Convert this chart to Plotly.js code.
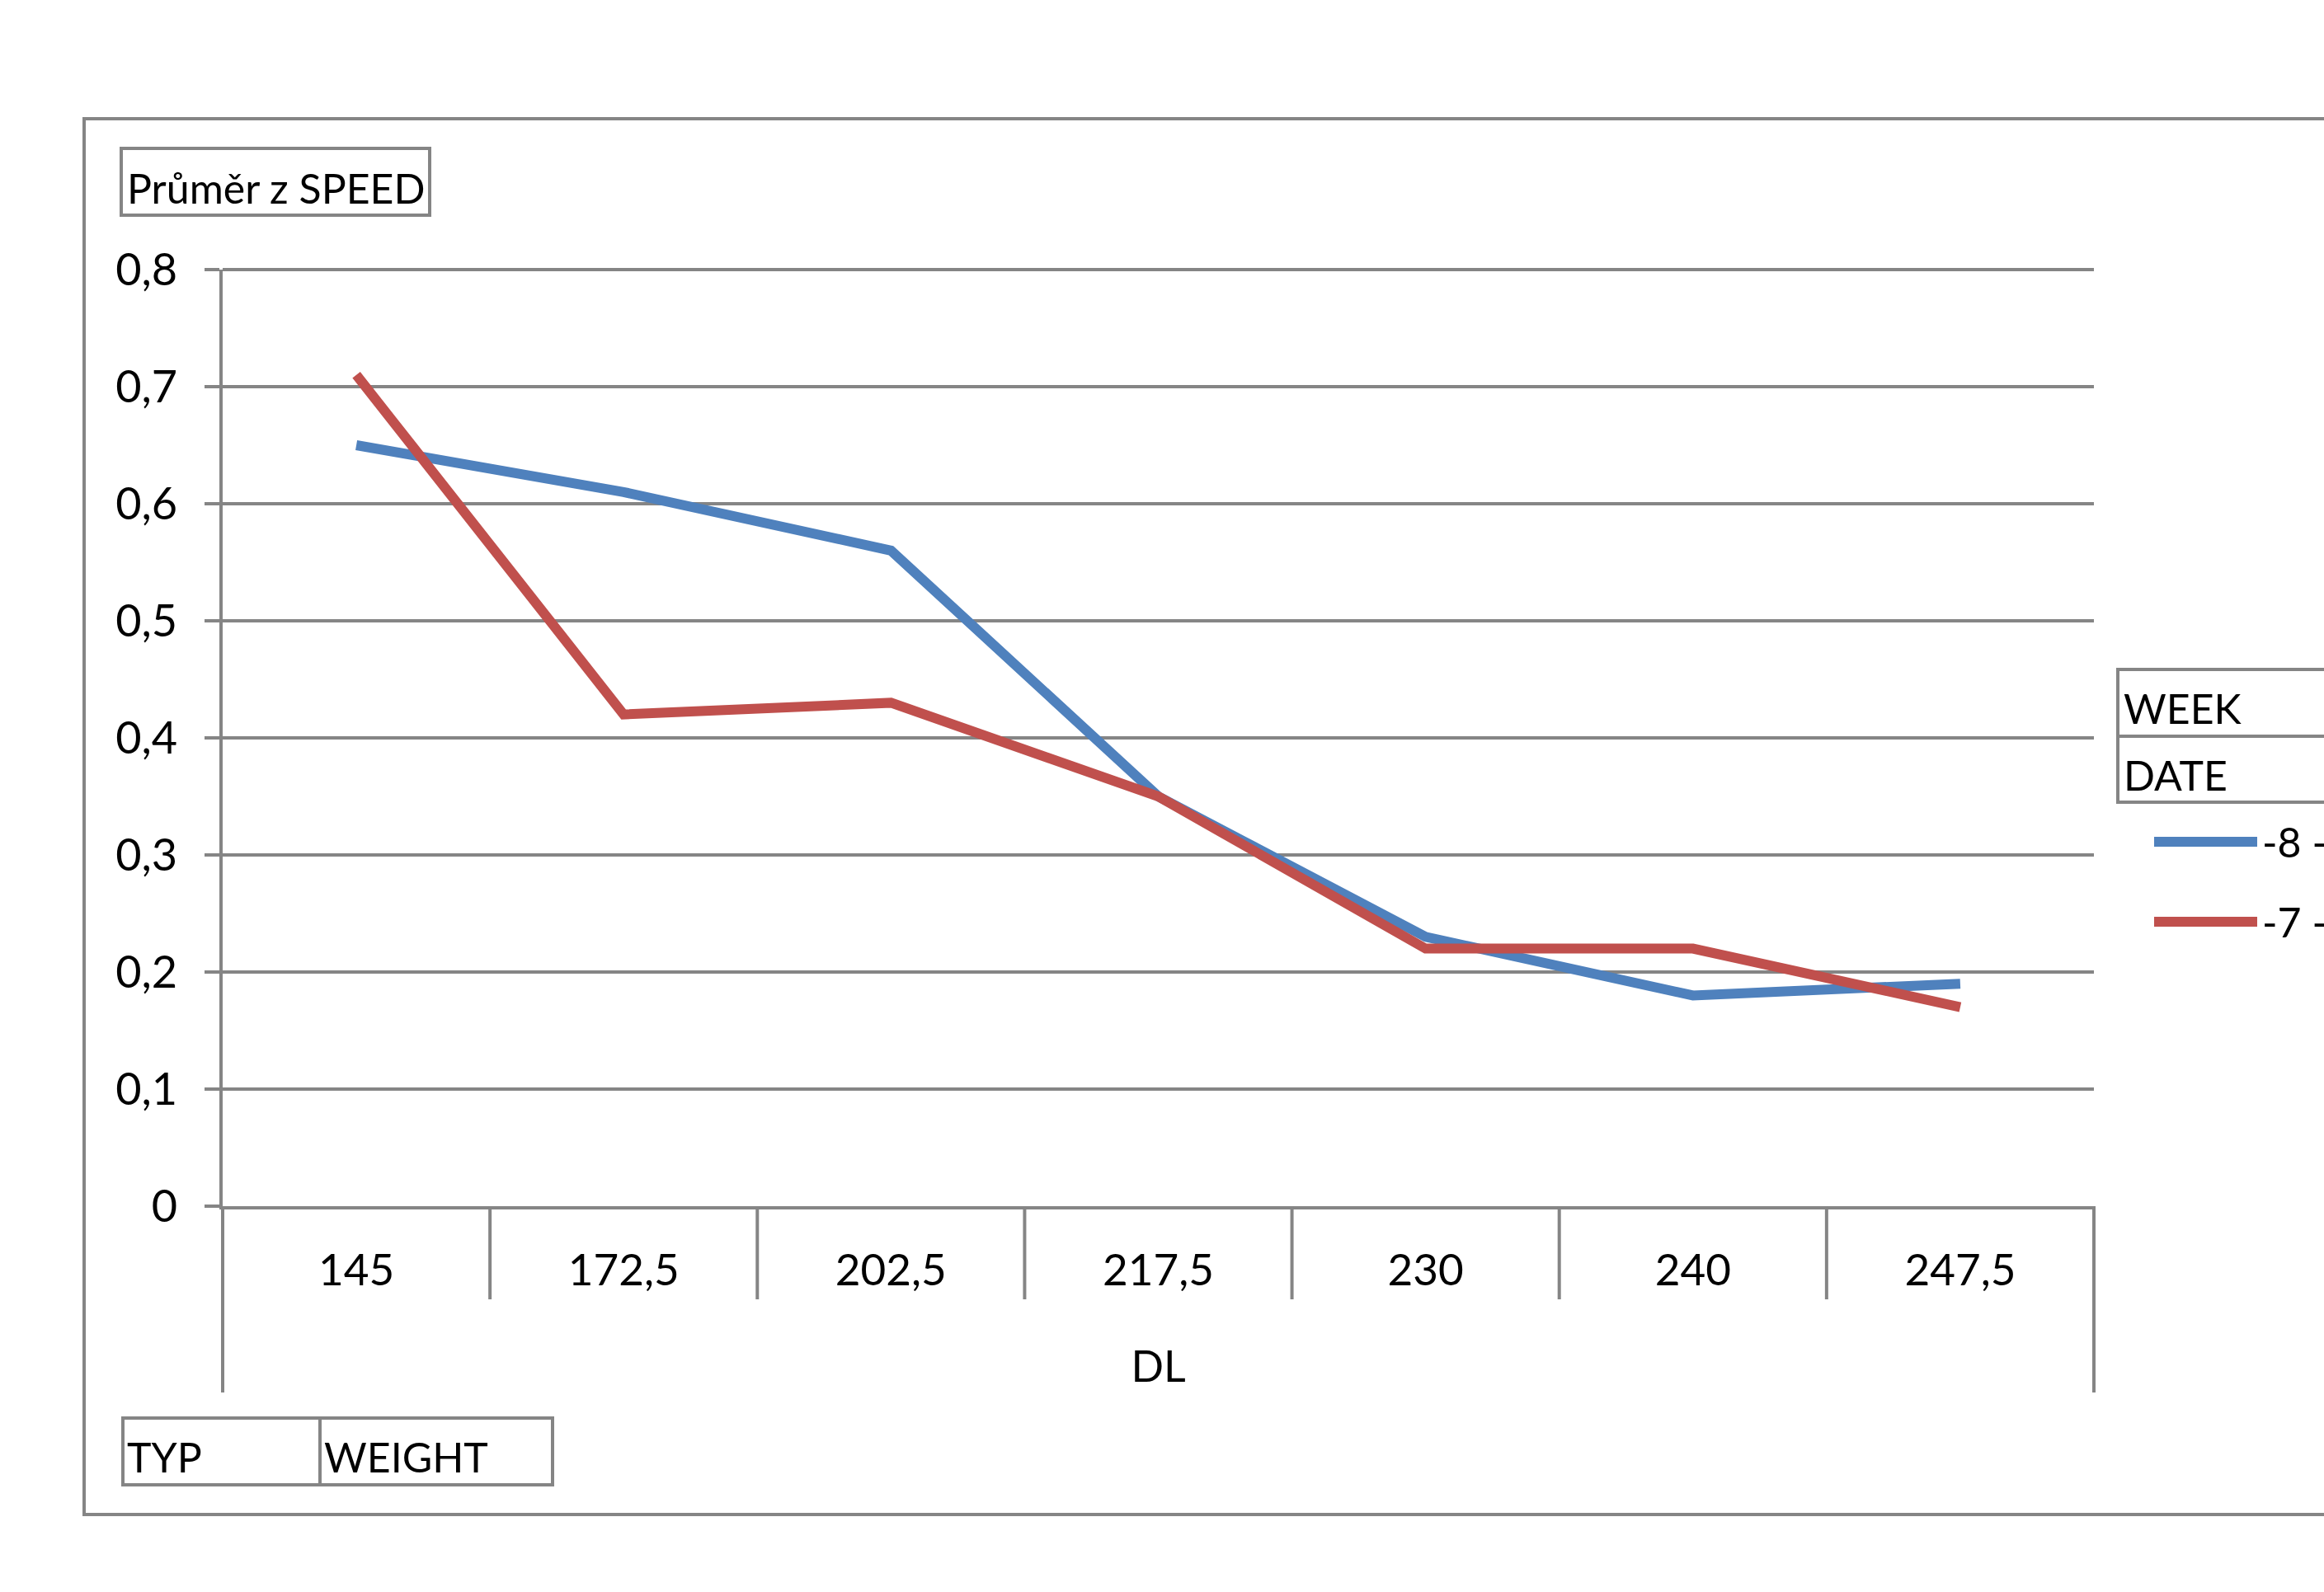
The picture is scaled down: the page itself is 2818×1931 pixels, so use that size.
<!DOCTYPE html>
<html>
<head>
<meta charset="utf-8">
<script src="https://cdn.plot.ly/plotly-3.0.1.min.js"></script>
<style>
  html, body { margin: 0; padding: 0; background: #fff; }
  #chart { width: 2818px; height: 1931px; }
</style>
</head>
<body>
<div id="chart"></div>
<script>
'use strict';

// data
const categories = ['145', '172,5', '202,5', '217,5', '230', '240', '247,5'];
const seriesNames = ['-8 -', '-7 -'];
const seriesWeek8 = [0.65, 0.61, 0.56, 0.35, 0.23, 0.18, 0.19];
const seriesWeek7 = [0.71, 0.42, 0.43, 0.35, 0.22, 0.22, 0.17];
const seriesColors = ['#4F81BD', '#C0504D'];

const GRAY = '#858585';
const W = 2818, H = 1931;
const PL = 270, PR = 2539, PT = 327, PB = 1463;

// pixel -> paper coords
const px = x => (x - PL) / (PR - PL);
const py = y => (PB - y) / (PB - PT);

const traces = [seriesWeek8, seriesWeek7].map((vals, i) => ({
    x: categories, y: vals, type: 'scatter', mode: 'lines',
    name: seriesNames[i],
    line: { color: seriesColors[i], width: 12 },
    showlegend: false,
}));

const boxLine = { color: GRAY, width: 4 };
const shapes = [
    // top gridline (plotly skips the one sitting on the plot edge)
    { type: 'line', xref: 'paper', yref: 'paper', x0: 0, x1: 1, y0: 1, y1: 1, line: boxLine, layer: 'below' },
    // outer chart border (runs off the right edge)
    { type: 'rect', xref: 'paper', yref: 'paper', x0: px(102), x1: px(2840), y0: py(1837), y1: py(144), line: boxLine },
    // field buttons
    { type: 'rect', xref: 'paper', yref: 'paper', x0: px(147), x1: px(521), y0: py(261), y1: py(180), line: boxLine },
    { type: 'rect', xref: 'paper', yref: 'paper', x0: px(2568), x1: px(2840), y0: py(973), y1: py(812), line: boxLine },
    { type: 'line', xref: 'paper', yref: 'paper', x0: px(2568), x1: px(2840), y0: py(893), y1: py(893), line: boxLine },
    { type: 'rect', xref: 'paper', yref: 'paper', x0: px(149), x1: px(670), y0: py(1801), y1: py(1720), line: boxLine },
    { type: 'line', xref: 'paper', yref: 'paper', x0: px(388), x1: px(388), y0: py(1801), y1: py(1720), line: boxLine },
];

// category divider lines below the axis
const n = categories.length;
for (let i = 0; i <= n; i++) {
    const outer = i === 0 || i === n;
    shapes.push({ type: 'line', xref: 'paper', yref: 'paper', x0: i / n, x1: i / n, y0: 0, y1: py(outer ? 1689 : 1576), line: boxLine });
}

const annotations = [
    { text: 'Průměr z SPEED', x: px(152), y: py(228) },
    { text: 'WEEK', x: px(2573), y: py(859) },
    { text: 'DATE', x: px(2573), y: py(940) },
    { text: 'TYP', x: px(152), y: py(1767) },
    { text: 'WEIGHT', x: px(391), y: py(1767) },
];

// hand-drawn legend so the sample line is as long as the original
seriesNames.forEach((name, i) => {
    const yy = 1021 + i * 97;
    shapes.push({ type: 'line', xref: 'paper', yref: 'paper', x0: px(2612), x1: px(2737), y0: py(yy), y1: py(yy),
        line: { color: seriesColors[i], width: 12 } });
    annotations.push({ text: name, x: px(2741), y: py(yy) });
});
annotations.forEach(a => Object.assign(a, { xref: 'paper', yref: 'paper', xanchor: 'left', yanchor: 'middle', showarrow: false }));

const layout = {
    width: W, height: H,
    margin: { l: PL, r: W - PR, t: PT, b: H - PB },
    paper_bgcolor: '#fff', plot_bgcolor: '#fff',
    separators: ', ',
    font: { family: 'Lato, "Open Sans", sans-serif', size: 50, color: '#000' },
    showlegend: false,
    xaxis: {
        type: 'category', categoryorder: 'array', categoryarray: categories,
        range: [-0.5, n - 0.5],
        showgrid: false, ticks: '', showline: true, linecolor: GRAY, linewidth: 4,
        ticklabelstandoff: 28, tickfont: { size: 53 },
        title: { text: 'DL', standoff: 72, font: { size: 52 } },
    },
    yaxis: {
        range: [0, 0.8], dtick: 0.1, tick0: 0,
        showgrid: true, gridcolor: GRAY, gridwidth: 4, zeroline: false,
        ticks: 'outside', ticklen: 18, tickwidth: 4, tickcolor: GRAY,
        showline: true, linecolor: GRAY, linewidth: 4,
        ticklabelstandoff: 22, tickfont: { size: 54 },
    },
    shapes, annotations,
};

Plotly.newPlot('chart', traces, layout, { displayModeBar: false, staticPlot: true });
</script>
</body>
</html>
